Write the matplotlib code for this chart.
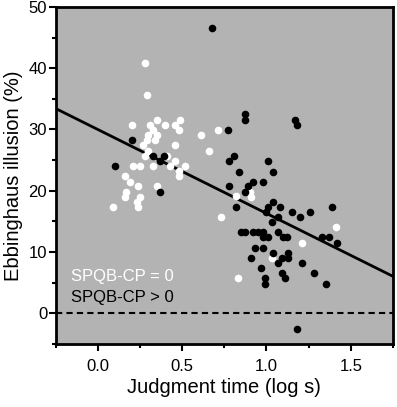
import numpy as np
import matplotlib.pyplot as plt
from matplotlib.ticker import MultipleLocator

plt.rcParams['font.family'] = ['Liberation Sans', 'DejaVu Sans']

# SPQB-CP = 0 (white points)
white_x = [0.28, 0.29, 0.35, 0.49, 0.20, 0.31, 0.40, 0.46, 0.33, 0.48, 0.71, 0.30,
           0.35, 0.61, 0.29, 0.34, 0.27, 0.46, 0.66, 0.30, 0.28, 0.41, 0.46, 0.21,
           0.25, 0.33, 0.43, 0.52, 0.48, 0.48, 0.16, 0.19, 0.24, 0.35, 0.17, 0.16,
           0.25, 0.23, 0.24, 0.09, 0.73, 0.82, 0.91, 0.90, 1.01, 1.41, 1.21, 1.03,
           0.83]
white_y = [40.8, 35.7, 31.5, 31.5, 30.7, 30.7, 30.7, 30.7, 29.9, 29.9, 29.9, 29.1,
           29.1, 29.1, 28.2, 28.2, 27.4, 27.4, 26.5, 26.5, 25.7, 25.7, 24.9, 24.1,
           24.1, 24.1, 24.1, 24.1, 23.3, 22.4, 22.4, 21.5, 20.7, 20.7, 19.8, 19.0,
           19.0, 18.2, 17.4, 17.4, 15.7, 19.2, 19.0, 19.8, 17.4, 14.0, 11.5, 9.1,
           5.7]

# SPQB-CP > 0 (black points)
black_x = [0.68, 0.87, 0.87, 1.17, 1.18, 0.77, 0.20, 0.33, 0.39, 0.37, 0.10, 0.37,
           0.81, 0.78, 1.01, 0.84, 1.04, 0.92, 0.98, 0.89, 0.78, 0.87, 1.04, 1.01,
           1.08, 0.82, 1.15, 1.26, 1.20, 1.39, 1.00, 1.03, 1.07, 0.85, 0.87, 0.92,
           0.95, 0.98, 0.98, 1.01, 1.10, 1.12, 1.07, 1.33, 1.37, 1.42, 0.93, 0.98,
           1.13, 1.13, 1.04, 0.91, 1.09, 1.07, 1.21, 0.97, 1.09, 1.11, 0.99, 0.99,
           1.28, 1.35, 1.18]
black_y = [46.6, 32.5, 31.5, 31.5, 30.7, 29.9, 28.2, 25.7, 25.7, 24.9, 24.1, 19.8,
           25.7, 24.9, 24.9, 23.1, 23.1, 21.5, 21.5, 20.7, 20.7, 19.8, 18.2, 17.4,
           17.4, 17.4, 16.6, 16.6, 15.7, 17.4, 16.6, 14.9, 15.7, 13.2, 13.2, 13.2,
           13.2, 13.2, 12.4, 12.4, 12.4, 12.4, 13.2, 12.4, 12.4, 11.5, 10.7, 10.7,
           9.9, 9.1, 9.9, 9.1, 9.1, 8.2, 8.2, 7.4, 6.6, 5.7, 5.7, 4.8,
           6.6, 4.8, -2.6]

# regression line (slope, intercept)
fit = [-13.7, 30.0]

fig = plt.figure(figsize=(3.97, 4.07), dpi=100)
ax = fig.add_axes([0.14, 0.155, 0.85, 0.828])
ax.set_facecolor('#b3b3b3')

ax.axhline(0, color='black', lw=1.5, ls=(0, (3, 2)))
xl = np.array([-0.25, 1.75])
ax.plot(xl, np.polyval(fit, xl), color='black', lw=2)

ax.scatter(white_x, white_y, s=30, color='white', lw=0, zorder=3)
ax.scatter(black_x, black_y, s=30, color='black', lw=0, zorder=4)

ax.text(-0.16, 6.0, 'SPQB-CP = 0', color='white', fontsize=12, va='center')
ax.text(-0.16, 2.5, 'SPQB-CP > 0', color='black', fontsize=12, va='center')

ax.set_xlim(-0.25, 1.75)
ax.set_ylim(-5, 50)
ax.set_xticks([0, 0.5, 1.0, 1.5])
ax.set_xticklabels(['0.0', '0.5', '1.0', '1.5'])
ax.set_yticks([0, 10, 20, 30, 40, 50])
ax.xaxis.set_minor_locator(MultipleLocator(0.25))
ax.yaxis.set_minor_locator(MultipleLocator(5))
ax.tick_params(which='major', length=5, width=1.5, labelsize=12, direction='out')
ax.tick_params(which='minor', length=3, width=1.5)
ax.tick_params(axis='x', pad=6)
ax.tick_params(axis='y', pad=1)
for sp in ax.spines.values():
    sp.set_linewidth(2)

ax.set_xlabel('Judgment time (log s)', fontsize=14.5, labelpad=3)
ax.set_ylabel('Ebbinghaus illusion (%)', fontsize=14.5, labelpad=4)

fig.savefig('out.png', dpi=100)
